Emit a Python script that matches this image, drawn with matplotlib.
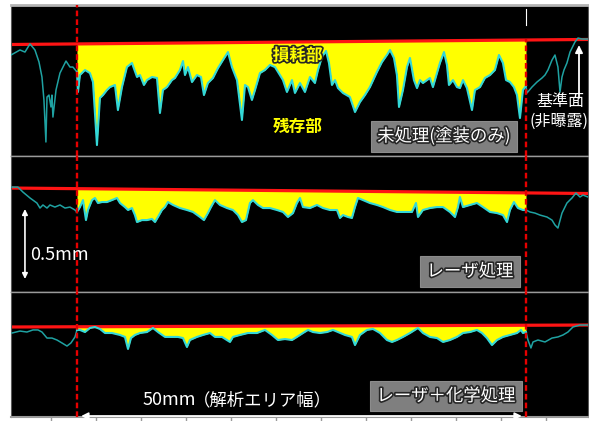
"""Profile cross-sections: untreated vs laser vs laser+chemical (loss area vs reference plane)."""

import matplotlib

matplotlib.use("Agg")  # headless
import matplotlib.patheffects as pe  # noqa: E402
import matplotlib.pyplot as plt  # noqa: E402
import numpy as np  # noqa: E402

plt.rcParams["font.family"] = ["Noto Sans CJK JP", "DejaVu Sans"]

# x = position along the sample (mm), y = height vs. left end of the reference line (mm)
AREA_START, AREA_END = 7.89, 57.78  # 50 mm analysis window
X_LIMITS = [0.56, 64.67]
TICKS_MM = [5, 10, 15, 20, 25, 30, 35, 40, 45, 50, 55, 60]
SCALE_BAR_MM = 0.5

# reference plane (red line) height at both ends of X_LIMITS
REF_UNTREATED = [0.0, 0.036]
REF_LASER = [0.0, -0.039]
REF_LASER_CHEM = [0.0, 0.014]

UNTREATED_X = [
    0.56, 1.56, 2.11, 2.67, 3.22, 3.67, 4.0, 4.22, 4.44, 4.56, 4.78, 5.0, 5.11, 5.22,
    5.56, 6.0, 6.67, 7.11, 7.44, 7.89,
    8.0, 8.22, 8.78, 9.33, 9.67, 10.11, 10.44, 10.78, 11.22, 11.56, 12.11, 12.44,
    12.89, 13.44, 14.0, 14.56, 14.89, 15.33, 15.67, 16.22, 16.78, 17.11, 17.44,
    17.89, 18.44, 18.78, 19.33, 19.67, 19.89, 20.22, 20.67, 21.22, 21.67, 22.0,
    22.44, 23.0, 23.56, 24.11, 24.67, 25.11, 25.67, 26.22, 26.56, 26.89, 27.33,
    27.67, 28.22, 28.78, 29.33, 29.89, 30.44, 30.78, 31.22, 31.78, 32.11, 32.67,
    33.22, 33.78, 34.33, 34.67, 35.11, 35.56, 35.89, 36.22, 36.56, 36.89, 37.44,
    38.22, 38.78, 39.33, 39.89, 40.44, 41.22, 41.78, 42.33, 42.67, 43.11, 43.44,
    43.67, 44.11, 44.56, 44.89, 45.33, 45.67, 46.0, 46.33, 46.78, 47.11, 47.44,
    47.89, 48.22, 48.67, 49.0, 49.22, 49.67, 50.11, 50.44, 50.78, 51.22, 51.78,
    52.11, 52.67, 53.22, 53.78, 54.33, 54.78, 55.22, 55.56, 56.0, 56.44, 56.78,
    57.11, 57.44, 57.78,
    57.89, 58.44, 59.0, 59.56, 59.89, 60.22, 60.67, 61.0, 61.33, 61.56, 61.78,
    62.0, 62.33, 62.67, 63.22, 63.56, 64.0, 64.67,
]
UNTREATED_Y = [
    -0.075, -0.039, -0.054, 0.004, -0.039, -0.125, -0.232, -0.396, -0.696, -0.375,
    -0.361, -0.446, -0.361, -0.518, -0.325, -0.204, -0.118, -0.161, -0.161, -0.196,
    -0.339, -0.218, -0.182, -0.204, -0.268, -0.718, -0.382, -0.361, -0.325, -0.304,
    -0.289, -0.468, -0.304, -0.161, -0.132, -0.232, -0.218, -0.289, -0.254, -0.232,
    -0.239, -0.489, -0.325, -0.304, -0.254, -0.239, -0.182, -0.118, -0.218, -0.161,
    -0.268, -0.218, -0.232, -0.361, -0.275, -0.239, -0.168, -0.111, -0.054, -0.161,
    -0.254, -0.539, -0.289, -0.304, -0.396, -0.325, -0.204, -0.182, -0.146, -0.161,
    -0.218, -0.254, -0.339, -0.254, -0.346, -0.275, -0.339, -0.232, -0.275, -0.182,
    -0.089, -0.046, -0.132, -0.289, -0.254, -0.311, -0.346, -0.375, -0.482, -0.411,
    -0.361, -0.304, -0.196, -0.125, -0.075, -0.039, -0.096, -0.218, -0.446, -0.325,
    -0.161, -0.096, -0.254, -0.311, -0.254, -0.275, -0.254, -0.239, -0.304, -0.204,
    -0.132, -0.054, -0.146, -0.289, -0.254, -0.304, -0.311, -0.254, -0.311, -0.468,
    -0.325, -0.304, -0.239, -0.218, -0.182, -0.075, -0.132, -0.254, -0.268, -0.304,
    -0.361, -0.525, -0.325, -0.296,
    -0.346, -0.304, -0.268, -0.239, -0.218, -0.182, -0.111, -0.075, -0.161, -0.339,
    -0.232, -0.182, -0.132, -0.054, 0.018, 0.046, 0.039, 0.039,
]

LASER_X = [
    0.67, 1.33, 1.89, 2.67, 3.44, 3.78, 4.11, 4.56, 4.89, 5.44, 6.0, 6.56, 7.11,
    7.67, 7.89,
    8.22, 8.56, 8.89, 9.11, 9.56, 9.89, 10.22, 10.67, 11.22, 11.78, 12.33, 12.67,
    13.22, 13.56, 14.0, 14.33, 14.56, 15.11, 15.67, 16.22, 16.56, 16.89, 17.33,
    17.67, 18.0, 18.56, 19.33, 20.11, 20.78, 21.56, 22.0, 22.44, 22.78, 23.22,
    23.78, 24.56, 25.22, 25.78, 26.22, 26.67, 27.11, 27.44, 28.0, 28.56, 29.33,
    30.11, 30.78, 31.33, 31.89, 32.33, 32.67, 33.0, 33.78, 34.56, 35.22, 36.0,
    36.78, 37.11, 37.44, 38.0, 38.44, 38.78, 39.11, 39.67, 40.44, 41.22, 41.89,
    42.67, 43.44, 44.33, 45.11, 45.56, 45.78, 46.33, 47.11, 47.89, 48.56, 49.33,
    49.89, 50.22, 50.44, 50.78, 51.56, 52.33, 53.0, 53.78, 54.56, 55.22, 55.67,
    56.0, 56.44, 56.89, 57.44, 57.78,
    58.22, 58.78, 59.33, 60.11, 60.67, 61.0, 61.33, 61.78, 62.33, 62.89, 63.33,
    63.78, 64.11, 64.67,
]
LASER_Y = [
    0.007, 0.007, -0.029, -0.071, -0.107, -0.143, -0.121, -0.143, -0.121, -0.136,
    -0.121, -0.143, -0.136, -0.157, -0.171,
    -0.136, -0.086, -0.229, -0.157, -0.086, -0.071, -0.107, -0.1, -0.1, -0.086,
    -0.071, -0.107, -0.136, -0.157, -0.143, -0.193, -0.243, -0.229, -0.229, -0.221,
    -0.243, -0.207, -0.157, -0.136, -0.1, -0.121, -0.143, -0.157, -0.171, -0.207,
    -0.229, -0.179, -0.136, -0.086, -0.121, -0.143, -0.157, -0.193, -0.243, -0.229,
    -0.107, -0.086, -0.121, -0.143, -0.143, -0.157, -0.171, -0.207, -0.179, -0.107,
    -0.071, -0.136, -0.143, -0.121, -0.143, -0.157, -0.157, -0.214, -0.193, -0.207,
    -0.214, -0.136, -0.071, -0.086, -0.107, -0.121, -0.136, -0.157, -0.171, -0.171,
    -0.171, -0.107, -0.207, -0.157, -0.143, -0.136, -0.136, -0.171, -0.207, -0.136,
    -0.064, -0.136, -0.121, -0.107, -0.136, -0.171, -0.179, -0.193, -0.243, -0.157,
    -0.1, -0.143, -0.157, -0.157,
    -0.171, -0.179, -0.193, -0.207, -0.229, -0.264, -0.286, -0.179, -0.107, -0.071,
    -0.036, -0.064, -0.05, -0.064,
]

LASER_CHEM_X = [
    0.67, 1.56, 2.33, 3.0, 3.56, 4.0, 4.56, 5.11, 5.67, 6.22, 6.78, 7.22, 7.67, 7.89,
    8.22, 8.78, 9.33, 9.89, 10.44, 11.0, 11.78, 12.67, 13.22, 13.56, 13.89, 14.33,
    14.89, 15.67, 16.33, 16.89, 17.67, 18.44, 19.11, 19.67, 20.11, 20.44, 21.22,
    21.89, 22.67, 23.22, 24.0, 24.89, 25.22, 26.0, 26.89, 27.89, 28.78, 29.56,
    30.22, 31.0, 31.78, 32.33, 33.0, 33.56, 34.11, 34.89, 35.67, 36.33, 36.89,
    37.67, 38.44, 38.78, 39.33, 40.11, 40.78, 41.56, 42.33, 42.89, 43.44, 44.11,
    44.89, 45.78, 46.33, 47.11, 47.89, 48.56, 49.33, 50.11, 50.78, 51.56, 52.33,
    52.89, 53.44, 54.0, 54.56, 55.22, 56.0, 56.78, 57.22, 57.44, 57.78,
    58.0, 58.33, 58.56, 59.11, 59.89, 60.67, 61.33, 61.89, 62.44, 63.0, 63.78, 64.67,
]
LASER_CHEM_Y = [
    -0.043, -0.029, -0.036, -0.021, -0.021, -0.036, -0.079, -0.079, -0.093, -0.114,
    -0.136, -0.114, -0.071, -0.021,
    -0.021, -0.036, -0.007, 0.0, -0.014, -0.043, -0.043, -0.057, -0.071, -0.157,
    -0.079, -0.057, -0.043, -0.036, -0.007, -0.036, -0.071, -0.071, -0.071, -0.079,
    -0.143, -0.093, -0.071, -0.057, -0.043, -0.071, -0.071, -0.107, -0.071, -0.057,
    -0.043, -0.043, -0.021, -0.057, -0.093, -0.086, -0.093, -0.071, -0.043, -0.021,
    -0.036, -0.043, -0.036, -0.021, -0.036, -0.057, -0.071, -0.129, -0.057, -0.021,
    -0.014, -0.043, -0.093, -0.107, -0.093, -0.071, -0.043, -0.007, -0.043, -0.071,
    -0.079, -0.107, -0.093, -0.071, -0.043, -0.036, -0.021, -0.043, -0.079, -0.129,
    -0.093, -0.071, -0.057, -0.043, -0.021, -0.043, -0.036,
    -0.093, -0.15, -0.107, -0.093, -0.107, -0.079, -0.071, -0.057, -0.036, 0.0,
    0.014, 0.014,
]

YELLOW = "#ffff00"
RED = "#ff1414"
DASH_RED = "#e60000"
TEAL_IN = "#33d8d8"
TEAL_OUT = "#1fa2a2"
BOX_GRAY = "#7f7f7f"
FRAME = "#9a9a9a"

FIG_W, FIG_H = 589, 421
AX_LEFT, AX_RIGHT = 11, 588
# (top px, bottom px, ylim) per panel, 140 px per mm
PANELS = [
    (5, 156, (-0.796, 0.282)),
    (156, 292, (-0.743, 0.229)),
    (292, 417, (-0.643, 0.25)),
]

OUTLINE = [pe.withStroke(linewidth=2.4, foreground="#262626")]


def _make_axes(fig, top, bottom, ylim):
    ax = fig.add_axes([
        AX_LEFT / FIG_W,
        1 - bottom / FIG_H,
        (AX_RIGHT - AX_LEFT) / FIG_W,
        (bottom - top) / FIG_H,
    ])
    ax.set_facecolor("black")
    ax.set_xlim(X_LIMITS)
    ax.set_ylim(ylim)
    ax.set_xticks([])
    ax.set_yticks([])
    for side in ("top", "bottom"):
        ax.spines[side].set_color(FRAME)
        ax.spines[side].set_linewidth(1.0)
    for side in ("left", "right"):
        ax.spines[side].set_color("#5a5a5a")
        ax.spines[side].set_linewidth(0.8)
    return ax


def draw_profile(ax, xs, ys, ref):
    x = np.asarray(xs)
    y = np.asarray(ys)
    ref_y = np.interp(x, X_LIMITS, ref)
    inside = (x >= AREA_START) & (x <= AREA_END)
    ax.fill_between(x, y, ref_y, where=inside, color=YELLOW, lw=0, zorder=1)
    ax.plot(X_LIMITS, ref, color=RED, lw=2.3, zorder=2, solid_capstyle="butt")
    left = x <= AREA_START
    right = x >= AREA_END
    ax.plot(x[left], y[left], color=TEAL_OUT, lw=1.1, zorder=3)
    ax.plot(x[right], y[right], color=TEAL_OUT, lw=1.1, zorder=3)
    ax.plot(x[inside], y[inside], color=TEAL_IN, lw=1.5, zorder=3)


def boxed_label(ax, x, y, text):
    ax.text(x, y, text, color="white", fontsize=12.5, ha="center", va="center",
            path_effects=OUTLINE, zorder=6,
            bbox=dict(boxstyle="square,pad=0.36", facecolor=BOX_GRAY,
                      edgecolor="#8c8c8c", linewidth=0.8))


def main():
    fig = plt.figure(figsize=(FIG_W / 100, FIG_H / 100), dpi=100)
    fig.patch.set_facecolor("white")
    axes = [_make_axes(fig, t, b, lim) for t, b, lim in PANELS]
    ax1, ax2, ax3 = axes
    ax1.spines["top"].set_linewidth(2.0)
    ax1.spines["top"].set_color("#b4b4b4")

    draw_profile(ax1, UNTREATED_X, UNTREATED_Y, REF_UNTREATED)
    draw_profile(ax2, LASER_X, LASER_Y, REF_LASER)
    draw_profile(ax3, LASER_CHEM_X, LASER_CHEM_Y, REF_LASER_CHEM)

    # analysis window boundaries
    dash = dict(color=DASH_RED, lw=1.7, dashes=(2.4, 1.3), zorder=4)
    for ax in axes:
        ax.axvline(AREA_START, **dash)
    ax1.plot([AREA_END, AREA_END], [ax1.get_ylim()[0], REF_UNTREATED[1]], **dash)
    ax1.plot([AREA_END, AREA_END], [0.25, 0.14], color="white", lw=0.8, zorder=4)
    ax2.axvline(AREA_END, **dash)
    ax3.axvline(AREA_END, **dash)

    # panel 1 annotations
    ax1.text(32.4, -0.079, "損耗部", color=YELLOW, fontsize=12, fontweight="bold",
             ha="center", va="center", path_effects=OUTLINE, zorder=6)
    ax1.text(32.4, -0.589, "残存部", color=YELLOW, fontsize=12, fontweight="bold",
             ha="center", va="center", zorder=6)
    boxed_label(ax1, 48.67, -0.654, "未処理(塗装のみ)")
    ax1.annotate("", xy=(63.67, -0.004), xytext=(63.67, -0.382),
                 arrowprops=dict(arrowstyle="-|>", color="white", lw=1.3,
                                 mutation_scale=11, shrinkA=0, shrinkB=0), zorder=6)
    ax1.text(61.6, -0.404, "基準面", color="white", fontsize=11.5, ha="center",
             va="center", zorder=6)
    ax1.text(61.4, -0.547, "(非曝露)", color="white", fontsize=11.5, ha="center",
             va="center", zorder=6)

    # panel 2: scale bar
    bar_top = -0.15
    ax2.annotate("", xy=(2.11, bar_top), xytext=(2.11, bar_top - SCALE_BAR_MM),
                 arrowprops=dict(arrowstyle="<|-|>", color="white", lw=1.2,
                                 mutation_scale=8, shrinkA=0, shrinkB=0), zorder=6)
    ax2.text(2.67, -0.479, "0.5mm", color="white", fontsize=13, ha="left",
             va="center", zorder=6)
    boxed_label(ax2, 51.56, -0.596, "レーザ処理")

    # panel 3: analysis width and axis ticks
    ax3.annotate("", xy=(AREA_START, -0.636), xytext=(AREA_END, -0.636),
                 arrowprops=dict(arrowstyle="<|-|>", color="white", lw=1.3,
                                 mutation_scale=10, shrinkA=3, shrinkB=3),
                 annotation_clip=False, zorder=6)
    ax3.text(15.2, -0.521, "50mm", color="white", fontsize=13, ha="left",
             va="center", zorder=6)
    ax3.text(20.8, -0.521, "（解析エリア幅）", color="white", fontsize=12.5,
             ha="left", va="center", zorder=6)
    boxed_label(ax3, 48.89, -0.493, "レーザ＋化学処理")
    ax3.spines["bottom"].set_linewidth(1.5)
    ax3.set_xticks(TICKS_MM)
    ax3.tick_params(axis="x", direction="out", length=3, width=1,
                    color=FRAME, labelbottom=False)

    fig.savefig("out.png", dpi=100, facecolor="white")
    plt.close(fig)


if __name__ == "__main__":
    main()
